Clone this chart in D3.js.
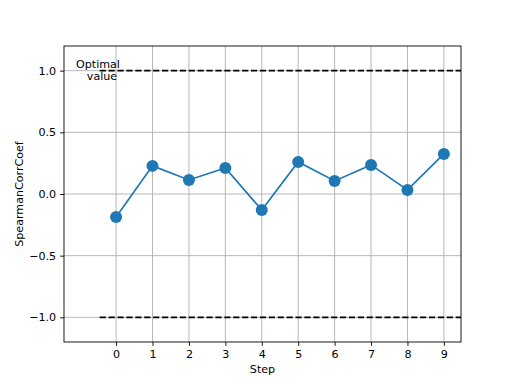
<!DOCTYPE html>
<html>
<head>
<meta charset="utf-8">
<script src="https://cdn.jsdelivr.net/npm/d3@7"></script>
<style>
  body { margin: 0; background: #fff; }
  text { font-family: "DejaVu Sans", sans-serif; }
</style>
</head>
<body>
<script>
// values
const steps = [0, 1, 2, 3, 4, 5, 6, 7, 8, 9];
const coefs = [-0.187, 0.228, 0.114, 0.211, -0.13, 0.26, 0.106, 0.236, 0.033, 0.325];
const yTicks = [-1.0, -0.5, 0.0, 0.5, 1.0];
const optimal = [1.0, -1.0];

const width = 512, height = 384;
const margin = {top: 46, right: 51, bottom: 42, left: 64};

const svg = d3.select("body").append("svg")
    .attr("width", width)
    .attr("height", height);

const x = d3.scaleLinear().domain([-1.43, 9.47]).range([margin.left, width - margin.right]);
const y = d3.scaleLinear().domain([-1.2, 1.2]).range([height - margin.bottom, margin.top]);

// grid
svg.append("g").selectAll("line")
    .data(steps).enter().append("line")
    .attr("x1", d => x(d)).attr("x2", d => x(d))
    .attr("y1", margin.top).attr("y2", height - margin.bottom)
    .attr("stroke", "#b0b0b0").attr("stroke-width", 0.9);
svg.append("g").selectAll("line")
    .data(yTicks).enter().append("line")
    .attr("x1", margin.left).attr("x2", width - margin.right)
    .attr("y1", d => y(d)).attr("y2", d => y(d))
    .attr("stroke", "#b0b0b0").attr("stroke-width", 0.9);

// optimal value lines
svg.append("g").selectAll("line")
    .data(optimal).enter().append("line")
    .attr("x1", x(-0.45)).attr("x2", x(9.47))
    .attr("y1", d => y(d)).attr("y2", d => y(d))
    .attr("stroke", "#000").attr("stroke-width", 1.67)
    .attr("stroke-dasharray", "6.2,2.7");

// axes
const xAxis = svg.append("g")
    .attr("transform", `translate(0,${height - margin.bottom})`)
    .call(d3.axisBottom(x).tickValues(steps).tickFormat(d3.format("d")).tickSize(3.9).tickPadding(4));
const yAxis = svg.append("g")
    .attr("transform", `translate(${margin.left},0)`)
    .call(d3.axisLeft(y).tickValues(yTicks).tickFormat(d => d3.format(".1f")(d).replace("-", "\u2212")).tickSize(3.9).tickPadding(4));
[xAxis, yAxis].forEach(a => {
  a.select(".domain").remove();
  a.selectAll("text").attr("font-size", 11.1).attr("fill", "#000").style("font-family", "DejaVu Sans");
  a.selectAll("line").attr("stroke", "#000").attr("stroke-width", 0.9);
});

// frame
svg.append("rect")
    .attr("x", margin.left).attr("y", margin.top)
    .attr("width", width - margin.left - margin.right)
    .attr("height", height - margin.top - margin.bottom)
    .attr("fill", "none").attr("stroke", "#000").attr("stroke-width", 0.9);

// series
const line = d3.line().x((d, i) => x(steps[i])).y(d => y(d));
svg.append("path")
    .datum(coefs)
    .attr("d", line)
    .attr("fill", "none")
    .attr("stroke", "#1f77b4")
    .attr("stroke-width", 1.67);
svg.append("g").selectAll("circle")
    .data(coefs).enter().append("circle")
    .attr("cx", (d, i) => x(steps[i]))
    .attr("cy", d => y(d))
    .attr("r", 6)
    .attr("fill", "#1f77b4");

// annotation
const note = svg.append("text")
    .attr("font-size", 11.1)
    .attr("text-anchor", "middle");
note.append("tspan").attr("x", 98).attr("y", y(1.0) - 3).text("Optimal");
note.append("tspan").attr("x", 102).attr("y", y(1.0) + 9).text("value");

// labels
svg.append("text")
    .attr("x", (margin.left + width - margin.right) / 2)
    .attr("y", 373)
    .attr("text-anchor", "middle")
    .attr("font-size", 11.1)
    .text("Step");
svg.append("text")
    .attr("transform", `translate(23,${(margin.top + height - margin.bottom) / 2}) rotate(-90)`)
    .attr("text-anchor", "middle")
    .attr("font-size", 11.1)
    .text("SpearmanCorrCoef");
</script>
</body>
</html>
